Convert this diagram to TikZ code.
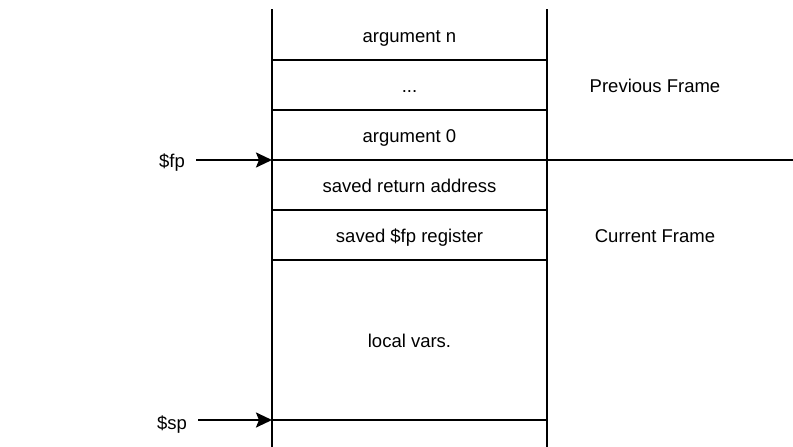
\documentclass[tikz,border=0pt]{standalone}
\usepackage{fontspec}
\setmainfont{Liberation Sans}
\usetikzlibrary{arrows.meta}
\begin{document}
\begin{tikzpicture}[x=1pt,y=-1pt,line width=2.2pt,line join=round,font=\fontsize{18.5}{20}\selectfont,
	every node/.style={text height=13pt,text depth=4pt},
	ptr/.style={-{Stealth[length=16pt,width=15pt,inset=3pt]},shorten <=7pt}]
	\useasboundingbox (0,0) rectangle (793,447);
	% stack walls
	\draw (272,9)--(272,447);
	\draw (547,9)--(547,447);
	% slots
	\foreach \y in {60,110,210,260,420}
		\draw (272,\y)--(547,\y);
	\draw (272,160)--(793,160);
	\path
	(409.5,38) node (argn) {argument n}
	(409.5,88) node (dots) {...}
	(409.5,138) node (arg0) {argument 0}
	(409.5,188) node (ret) {saved return address}
	(409.5,238) node (savedfp) {saved \$fp register}
	(409.5,343) node (locals) {local vars.}
	(655,88) node (prev) {Previous Frame}
	(655,238) node (curr) {Current Frame}
	(172,163) node (fp) {\$fp}
	(172,425) node (sp) {\$sp}
	;
	\coordinate (fptip) at (272,160);
	\coordinate (sptip) at (272,420);
	\draw[ptr] (fp.east|-fptip)--(fptip);
	\draw[ptr] (sp.east|-sptip)--(sptip);
\end{tikzpicture}
\end{document}
